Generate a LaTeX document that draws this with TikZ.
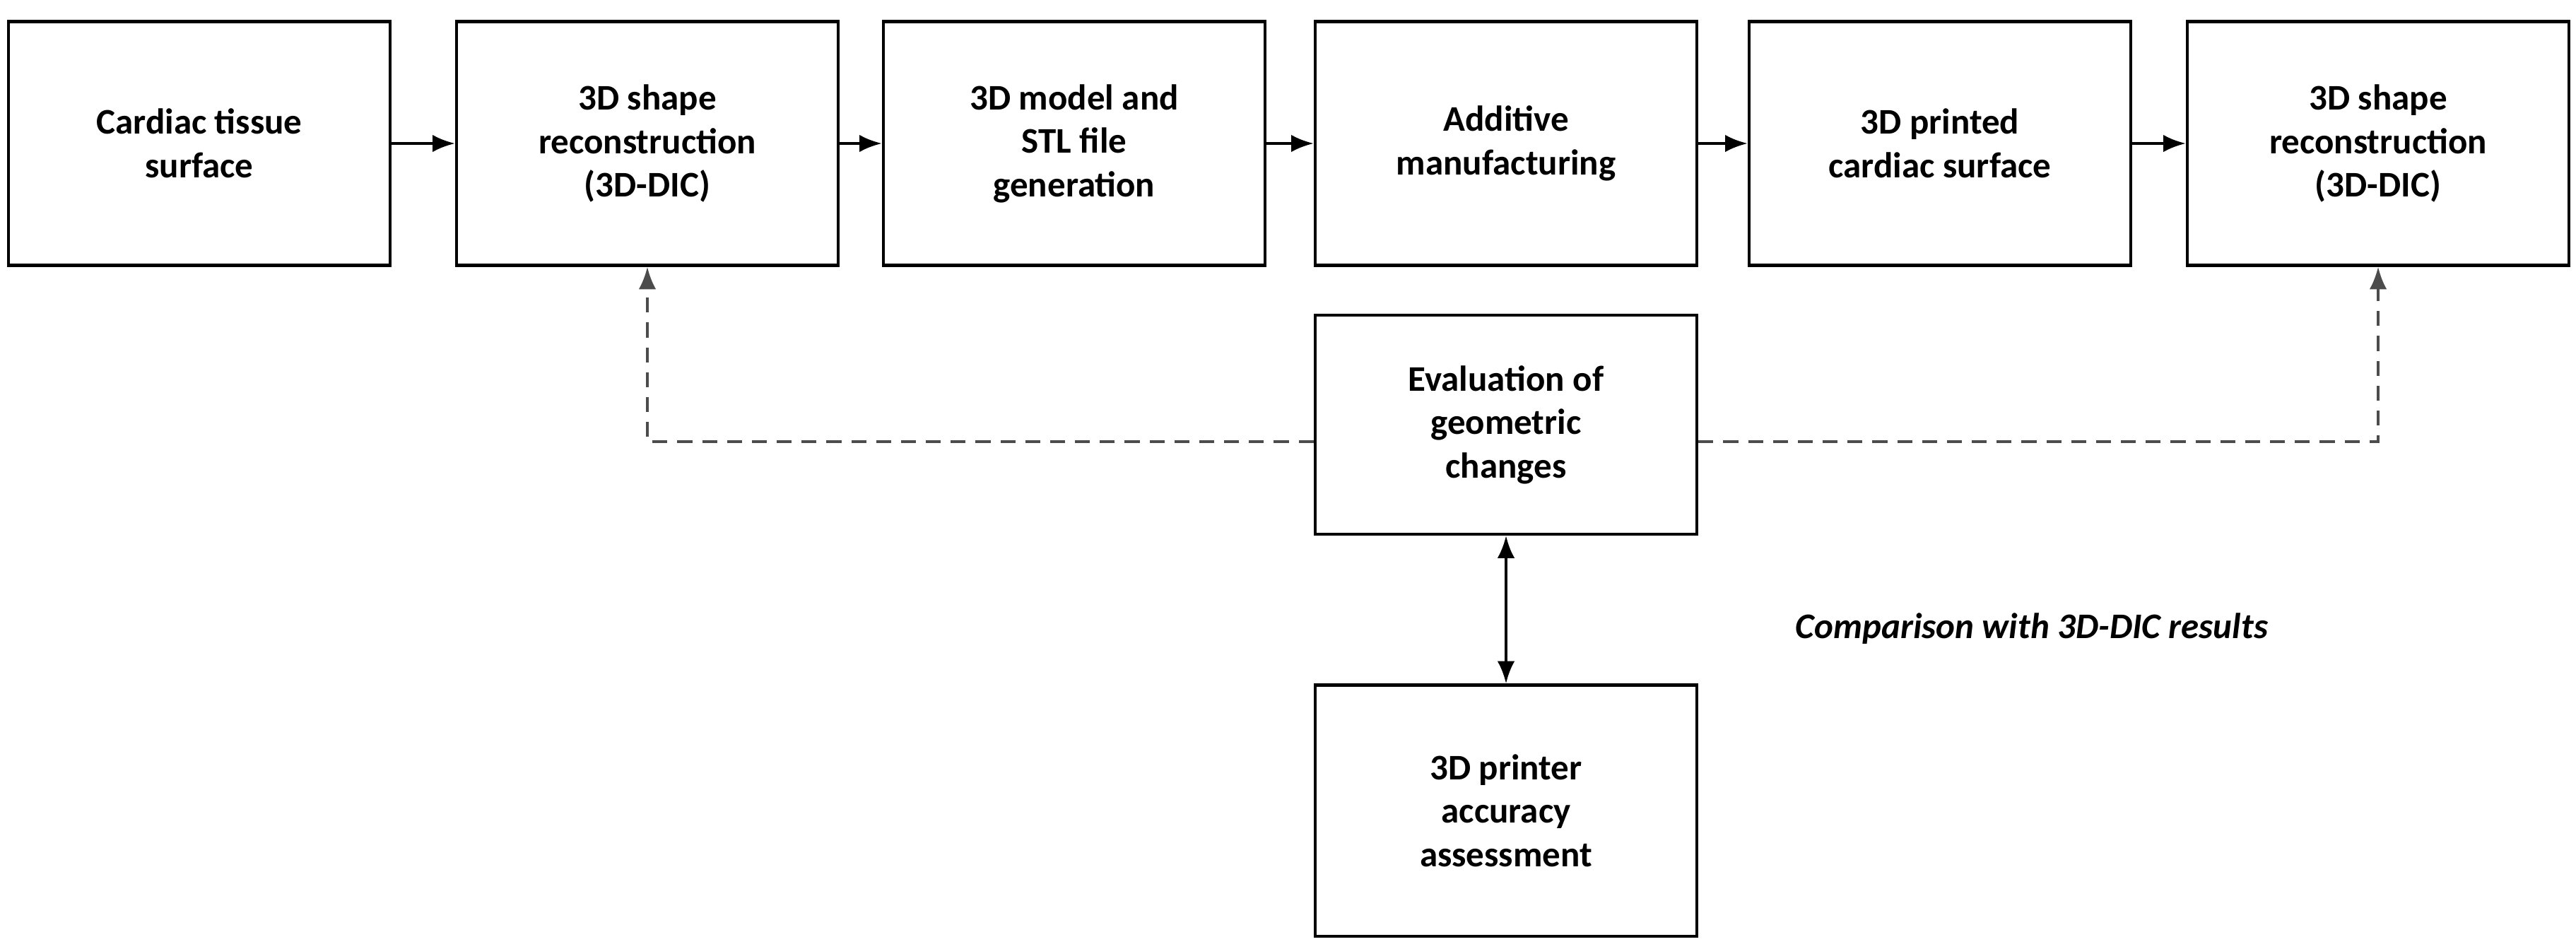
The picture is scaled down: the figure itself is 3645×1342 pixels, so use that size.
\documentclass[tikz,border=0pt]{standalone}
\usepackage{fontspec}
\setmainfont{Carlito}
\usetikzlibrary{arrows.meta}
\begin{document}
\begin{tikzpicture}[x=0.01cm,y=-0.01cm,
 box/.style={draw,line width=1.2pt,minimum width=5.4cm,minimum height=3.45cm,align=center,font=\fontsize{14.5}{17.5}\selectfont\bfseries,inner sep=2pt},
 arr/.style={line width=1.2pt,-{Latex[length=9pt,width=7pt]}},
 dsh/.style={line width=1.1pt,dash pattern=on 6pt off 4pt,draw=black!70,-{Latex[length=9pt,width=7pt]}}]
\useasboundingbox (0,0) rectangle (3645,1342);
\node[box] (a) at (282,203) {Cardiac tissue\\surface};
\node[box] (b) at (916,203) {3D shape\\reconstruction\\(3D-DIC)};
\node[box] (c) at (1520,203) {3D model and\\STL file\\generation};
\node[box] (d) at (2131,203) {Additive\\manufacturing};
\node[box] (e) at (2745,203) {3D printed\\cardiac surface};
\node[box] (f) at (3365,203) {3D shape\\reconstruction\\(3D-DIC)};
\node[box,minimum height=3.1cm] (g) at (2131,601) {Evaluation of\\geometric\\changes};
\node[box,minimum height=3.55cm] (h) at (2131,1147) {3D printer\\accuracy\\assessment};
\draw[arr] (a) -- (b);
\draw[arr] (b) -- (c);
\draw[arr] (c) -- (d);
\draw[arr] (d) -- (e);
\draw[arr] (e) -- (f);
\draw[dsh] (g.west |- 0,625) -| (b.south);
\draw[dsh] (g.east |- 0,625) -| (f.south);
\draw[line width=1.2pt,{Latex[length=9pt,width=7pt]}-{Latex[length=9pt,width=7pt]}] (g) -- (h);
\node[font=\fontsize{14.5}{17.5}\selectfont\bfseries\itshape] (t) at (2875,890) {Comparison with 3D-DIC results};
\end{tikzpicture}
\end{document}
